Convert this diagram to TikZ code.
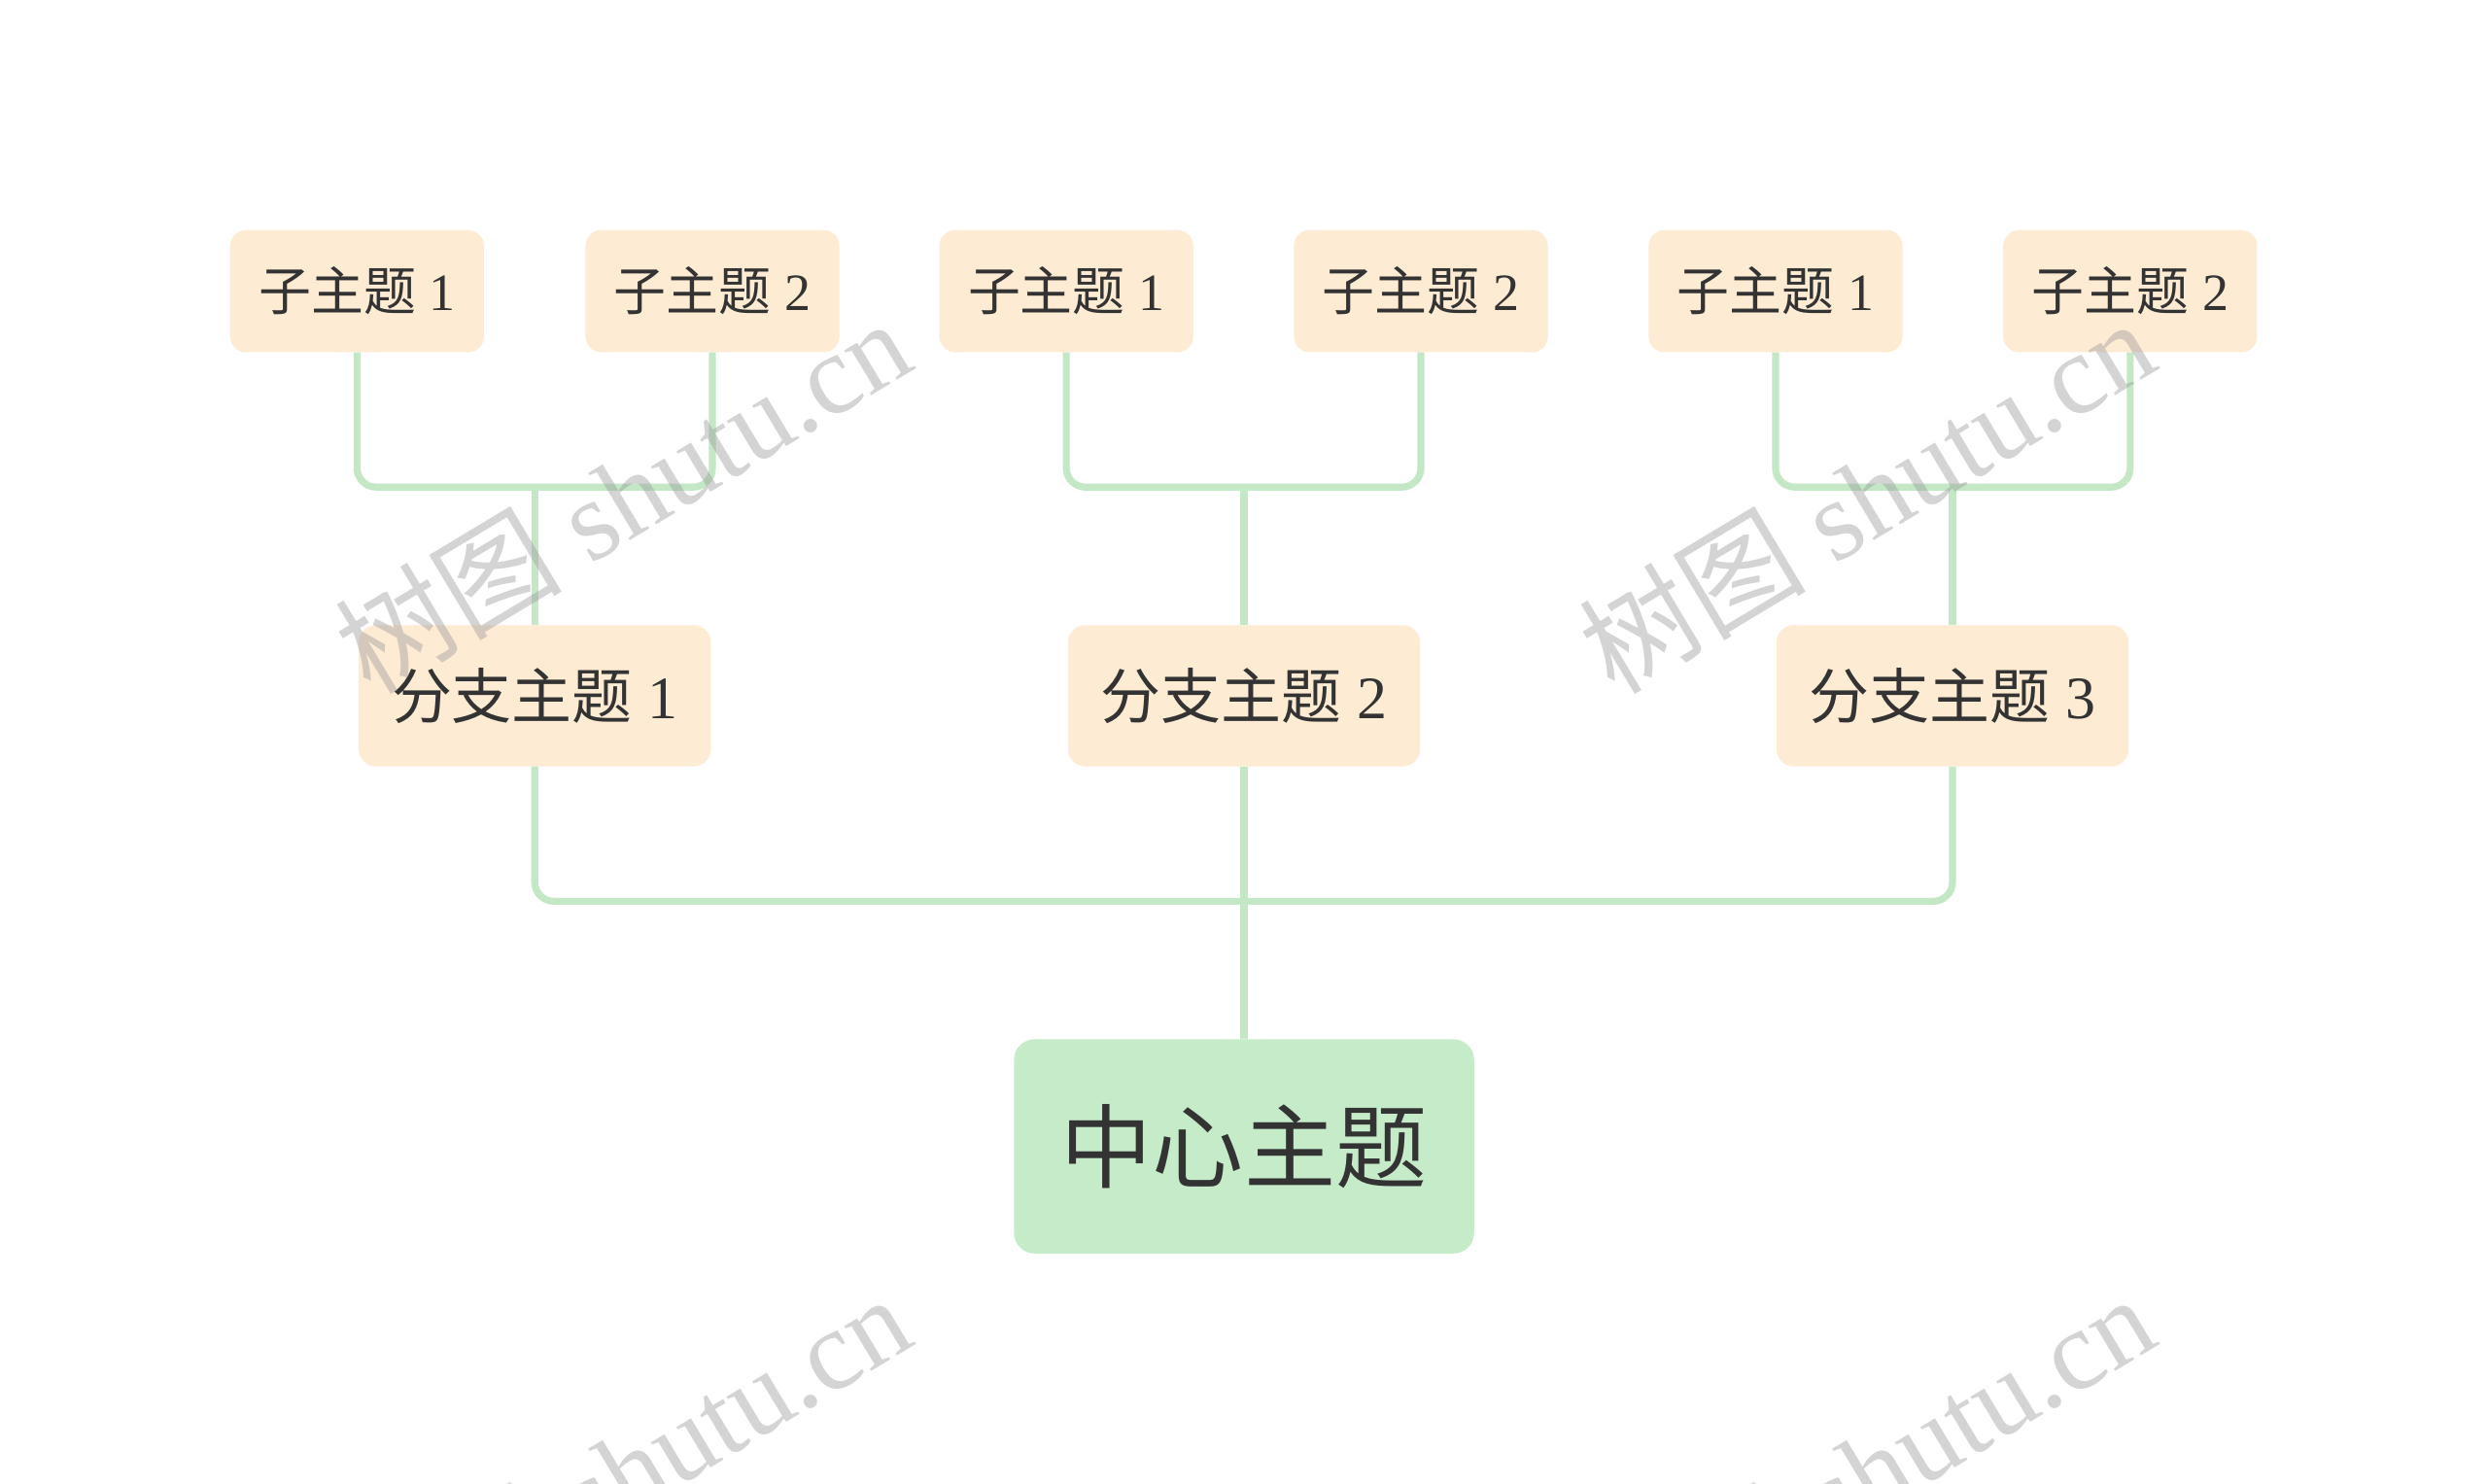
\documentclass[tikz,border=0pt]{standalone}
\usepackage{fontspec}
\setmainfont{Liberation Serif}
\newfontfamily\cjk{Noto Sans CJK SC}
\definecolor{peach}{HTML}{FDEBD4}
\definecolor{mint}{HTML}{C5EBC8}
\definecolor{linec}{HTML}{C4E8C6}
\definecolor{txt}{HTML}{333333}
\tikzset{
  subbox/.style={fill=peach, rounded corners=5mm, minimum width=80mm, minimum height=38.5mm, inner sep=0pt, text=txt, font=\fontsize{47}{50}\selectfont},
  branchbox/.style={fill=peach, rounded corners=5.5mm, minimum width=111mm, minimum height=44.5mm, inner sep=0pt, text=txt, font=\fontsize{54}{58}\selectfont},
  centralbox/.style={fill=mint, rounded corners=6.5mm, minimum width=145mm, minimum height=67.5mm, inner sep=0pt, text=txt, font=\fontsize{82}{86}\selectfont},
  conn/.style={draw=linec, line width=2.2mm, rounded corners=6mm},
  wmark/.style={text=black!40, opacity=0.42, rotate=31, font=\fontsize{102}{105}\selectfont, inner sep=0pt}
}
\begin{document}
\begin{tikzpicture}[x=0.5mm, y=-0.5mm]
\useasboundingbox (0,0) rectangle (1568,935);
\fill[white] (0,0) rectangle (1568,935);
% nodes
\node[centralbox] (c) at (784,722.5) {\cjk 中心主题};
\node[branchbox] (b1) at (337,438.5) {{\cjk 分支主题} 1};
\node[branchbox] (b2) at (784,438.5) {{\cjk 分支主题} 2};
\node[branchbox] (b3) at (1230.5,438.5) {{\cjk 分支主题} 3};
\node[subbox] (s11) at (225,183.5) {{\cjk 子主题} 1};
\node[subbox] (s12) at (449,183.5) {{\cjk 子主题} 2};
\node[subbox] (s21) at (672,183.5) {{\cjk 子主题} 1};
\node[subbox] (s22) at (895.5,183.5) {{\cjk 子主题} 2};
\node[subbox] (s31) at (1119,183.5) {{\cjk 子主题} 1};
\node[subbox] (s32) at (1342.5,183.5) {{\cjk 子主题} 2};
% connectors
\draw[conn] (b1.south) |- (c.north |- 0,568) -| (b3.south);
\draw[conn] (b2.south) -- (c.north);
\draw[conn] (s11.south) |- (b1.north |- 0,307) -| (s12.south);
\draw[conn] (b1.north) -- (b1.north |- 0,307);
\draw[conn] (s21.south) |- (b2.north |- 0,307) -| (s22.south);
\draw[conn] (b2.north) -- (b2.north |- 0,307);
\draw[conn] (s31.south) |- (b3.north |- 0,307) -| (s32.south);
\draw[conn] (b3.north) -- (b3.north |- 0,307);
% watermarks
\begin{scope}
\clip (0,0) rectangle (1568,935);
\node[wmark] (w1) at (392,312) {{\cjk 树图} shutu.cn};
\node[wmark] (w2) at (1176,312) {{\cjk 树图} shutu.cn};
\node[wmark] (w3) at (392,927) {{\cjk 树图} shutu.cn};
\node[wmark] (w4) at (1176,927) {{\cjk 树图} shutu.cn};
\end{scope}
\end{tikzpicture}
\end{document}
